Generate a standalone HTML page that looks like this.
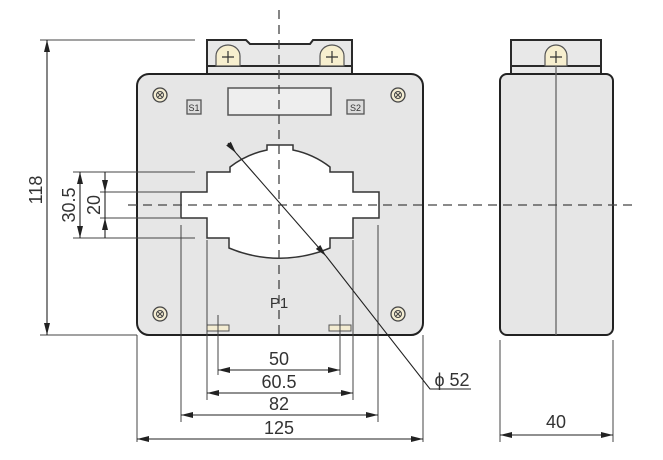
<!DOCTYPE html>
<html><head><meta charset="utf-8"><style>body{margin:0;background:#fff}svg{display:block}text{font-family:"Liberation Sans",sans-serif;fill:#333}</style></head><body>
<svg width="663" height="460" viewBox="0 0 663 460" xmlns="http://www.w3.org/2000/svg">
<defs>
<marker id="a" viewBox="0 0 12 6" refX="12" refY="3" markerWidth="14" markerHeight="6" markerUnits="userSpaceOnUse" orient="auto"><path d="M0,0L12,3L0,6z" fill="#222"/></marker>
<marker id="b" viewBox="0 0 12 6" refX="0" refY="3" markerWidth="14" markerHeight="6" markerUnits="userSpaceOnUse" orient="auto"><path d="M12,0L0,3L12,6z" fill="#222"/></marker>
</defs>
<path d="M207,40H246L250,44H310L313,40H352V75H207Z" fill="#e8e8e8" stroke="#2a2a2a" stroke-width="2"/>
<line x1="207" y1="66" x2="352" y2="66" stroke="#2a2a2a" stroke-width="2"/>
<g fill="#f7efcf" stroke="#555" stroke-width="1.2">
<path d="M216,66V56A12,11 0 0 1 240,56V66Z"/><path d="M320,66V56A12,11 0 0 1 344,56V66Z"/>
</g>
<g stroke="#333" stroke-width="1.2"><path d="M228,51v12M222,57h12M332,51v12M326,57h12"/></g>
<rect x="137" y="74" width="286" height="261" rx="12" fill="#e6e6e6" stroke="#222" stroke-width="2"/>
<rect x="228" y="88" width="103" height="27" fill="#eeeeee" stroke="#555" stroke-width="1.5"/>
<rect x="187" y="100" width="14" height="14" fill="#ddd" stroke="#555" stroke-width="1.3"/>
<text x="194" y="111" font-size="9" text-anchor="middle">S1</text>
<rect x="347" y="100" width="17" height="14" fill="#ddd" stroke="#555" stroke-width="1.3"/>
<text x="355.5" y="111" font-size="9" text-anchor="middle">S2</text>
<g fill="#f3ecd2" stroke="#444" stroke-width="1.3">
<circle cx="160" cy="95" r="7"/><circle cx="398" cy="95" r="7"/><circle cx="160" cy="314" r="7"/><circle cx="398" cy="314" r="7"/>
</g>
<g stroke="#444" stroke-width="1">
<circle cx="160" cy="95" r="3.5" fill="none"/><circle cx="398" cy="95" r="3.5" fill="none"/><circle cx="160" cy="314" r="3.5" fill="none"/><circle cx="398" cy="314" r="3.5" fill="none"/>
<path d="M157.5,92.5l5,5m0,-5l-5,5M395.5,92.5l5,5m0,-5l-5,5M157.5,311.5l5,5m0,-5l-5,5M395.5,311.5l5,5m0,-5l-5,5"/>
</g>
<path d="M181,192H207V172H230V167A90,90 0 0 1 267,150V145H293V150A90,90 0 0 1 330,167V172H353V192H379V218H353V238H330V248A130,130 0 0 1 229,248V238H207V218H181Z" fill="#fff" stroke="#333" stroke-width="1.5"/>
<rect x="207" y="325" width="22" height="6" fill="#f3ecd2" stroke="#555"/>
<rect x="329" y="325" width="22" height="6" fill="#f3ecd2" stroke="#555"/>
<text x="279" y="308" font-size="15" text-anchor="middle">P1</text>
<rect x="511" y="40" width="90" height="35" fill="#e8e8e8" stroke="#2a2a2a" stroke-width="2"/>
<line x1="511" y1="66" x2="601" y2="66" stroke="#2a2a2a" stroke-width="2"/>
<rect x="500" y="74" width="113" height="261" rx="7" fill="#e6e6e6" stroke="#222" stroke-width="2"/>
<path d="M545,66V56A11,11 0 0 1 567,56V66Z" fill="#f7efcf" stroke="#555" stroke-width="1.2"/>
<path d="M556,51v12M550,57h12" stroke="#333" stroke-width="1.2"/>
<line x1="556" y1="66" x2="556" y2="335" stroke="#666" stroke-width="1.3"/>
<g stroke="#444" stroke-width="1.3" stroke-dasharray="9,6">
<line x1="279" y1="10" x2="279" y2="340"/><line x1="128" y1="205" x2="632" y2="205"/>
</g>
<g stroke="#444" stroke-width="1" fill="none">
<path d="M40,40H195M40,335H137M73,172H195M73,238H195M100,192H180M100,218H180"/>
<path d="M218,315V375M340,315V375M207,240V400M353,240V400M181,225V422M378,225V422M137,335V442M423,335V442M500,340V442M613,340V442"/>
</g>
<g stroke="#222" stroke-width="1.1">
<line x1="47" y1="40" x2="47" y2="335" marker-start="url(#b)" marker-end="url(#a)"/>
<line x1="80" y1="172" x2="80" y2="238" marker-start="url(#b)" marker-end="url(#a)"/>
<line x1="105" y1="172" x2="105" y2="192" marker-end="url(#a)"/>
<line x1="105" y1="238" x2="105" y2="218" marker-end="url(#a)"/>
<line x1="105" y1="192" x2="105" y2="218"/>
<line x1="218" y1="370" x2="340" y2="370" marker-start="url(#b)" marker-end="url(#a)"/>
<line x1="207" y1="393" x2="353" y2="393" marker-start="url(#b)" marker-end="url(#a)"/>
<line x1="181" y1="415" x2="378" y2="415" marker-start="url(#b)" marker-end="url(#a)"/>
<line x1="137" y1="439" x2="423" y2="439" marker-start="url(#b)" marker-end="url(#a)"/>
<line x1="500" y1="435" x2="613" y2="435" marker-start="url(#b)" marker-end="url(#a)"/>
<line x1="228" y1="143" x2="236" y2="153" marker-end="url(#a)"/>
<line x1="236" y1="153" x2="326" y2="256" marker-end="url(#a)"/>
<path d="M326,256L430,389H471" fill="none"/>
</g>
<g font-size="18" text-anchor="middle">
<text x="279" y="365">50</text><text x="279" y="388">60.5</text><text x="279" y="410">82</text><text x="279" y="434">125</text>
<text x="556" y="428">40</text>
<text x="452" y="386">ϕ 52</text>
<text transform="translate(42,190) rotate(-90)">118</text>
<text transform="translate(75,205) rotate(-90)">30.5</text>
<text transform="translate(100,205) rotate(-90)">20</text>
</g>
</svg>
</body></html>
